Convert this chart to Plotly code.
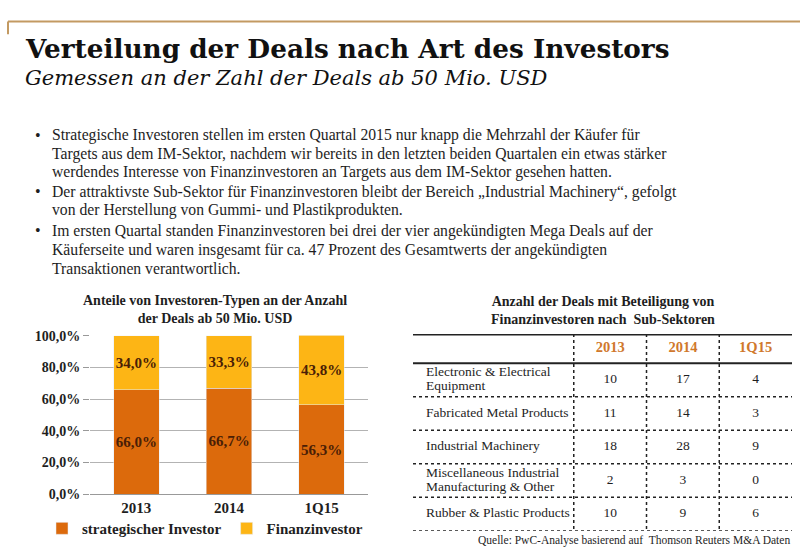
import plotly.graph_objects as go

# ---------------- data ----------------
years = ["2013", "2014", "1Q15"]
strategisch = [0.660, 0.667, 0.563]
finanz = [0.340, 0.333, 0.438]
strat_labels = ["66,0%", "66,7%", "56,3%"]
finanz_labels = ["34,0%", "33,3%", "43,8%"]

sectors = ["Electronic & Electrical<br>Equipment", "Fabricated Metal Products", "Industrial Machinery",
           "Miscellaneous Industrial<br>Manufacturing & Other", "Rubber & Plastic Products"]
deals_2013 = [10, 11, 18, 2, 10]
deals_2014 = [17, 14, 28, 3, 9]
deals_1q15 = [4, 3, 9, 0, 6]

title = "Verteilung der Deals nach Art des Investors"
subtitle = "Gemessen an der Zahl der Deals ab 50 Mio. USD"
bullets = [
    ["Strategische Investoren stellen im ersten Quartal 2015 nur knapp die Mehrzahl der Käufer für",
     "Targets aus dem IM-Sektor, nachdem wir bereits in den letzten beiden Quartalen ein etwas stärker",
     "werdendes Interesse von Finanzinvestoren an Targets aus dem IM-Sektor gesehen hatten."],
    ["Der attraktivste Sub-Sektor für Finanzinvestoren bleibt der Bereich „Industrial Machinery“, gefolgt",
     "von der Herstellung von Gummi- und Plastikprodukten."],
    ["Im ersten Quartal standen Finanzinvestoren bei drei der vier angekündigten Mega Deals auf der",
     "Käuferseite und waren insgesamt für ca. 47 Prozent des Gesamtwerts der angekündigten",
     "Transaktionen verantwortlich."],
]
chart_title = "Anteile von Investoren-Typen an der Anzahl<br>der Deals ab 50 Mio. USD"
table_title = "Anzahl der Deals mit Beteiligung von<br>Finanzinvestoren nach  Sub-Sektoren"
source = "Quelle: PwC-Analyse basierend auf  Thomson Reuters M&A Daten"

# ---------------- style ----------------
W, H = 800, 557
ORANGE = "#DC6A0C"
YELLOW = "#FDB515"
LBL = "#4a1e06"
SERIF = "Liberation Serif"
GEORGIA = "DejaVu Serif"
TXT = "#1e1e1e"

def py(pix):  # pixel y from top -> paper
    return (H - pix) / H

fig = go.Figure()

for vals, labels, name, col in [(strategisch, strat_labels, "strategischer Investor", ORANGE),
                                (finanz, finanz_labels, "Finanzinvestor", YELLOW)]:
    fig.add_trace(go.Bar(
        x=years, y=vals, name="<b>" + name + "</b>", marker_color=col,
        text=labels, texttemplate="<b>%{text}</b>", textposition="inside", insidetextanchor="middle",
        textangle=0, constraintext="none",
        textfont=dict(family=SERIF, size=15, color=LBL), width=0.49,
        xaxis="x", yaxis="y", hoverinfo="skip"))

# ---------------- table on its own axes ----------------
label_w = 2.21
header_h = 0.87
n = len(sectors)
row_centers = [-(header_h + i + 0.5) for i in range(n)]
col_centers = [0.5, 1.5, 2.5]

lab_x, lab_y, lab_t = [], [], []
for s, yc in zip(sectors, row_centers):
    parts = s.split("<br>")
    k = len(parts)
    for j, p in enumerate(parts):
        lab_x.append(-label_w + 0.18)
        lab_y.append(yc + (0.5 * (k - 1) - j) * 0.42)
        lab_t.append(p)
fig.add_trace(go.Scatter(
    x=lab_x, y=lab_y, text=lab_t, mode="text",
    textposition="middle right", textfont=dict(family=SERIF, size=13.5, color=TXT),
    xaxis="x2", yaxis="y2", showlegend=False, hoverinfo="skip"))
for c, vals in zip(col_centers, [deals_2013, deals_2014, deals_1q15]):
    fig.add_trace(go.Scatter(
        x=[c] * n, y=row_centers, text=[str(v) for v in vals], mode="text",
        textposition="middle center", textfont=dict(family=SERIF, size=13.5, color=TXT),
        xaxis="x2", yaxis="y2", showlegend=False, hoverinfo="skip"))
fig.add_trace(go.Scatter(
    x=col_centers, y=[-header_h / 2] * 3, text=["<b>" + y + "</b>" for y in years], mode="text",
    textposition="middle center", textfont=dict(family=SERIF, size=14.5, color="#D0782C"),
    xaxis="x2", yaxis="y2", showlegend=False, hoverinfo="skip"))

shapes = []
shapes.append(dict(type="line", xref="x2", yref="y2", x0=-label_w, x1=3, y0=0, y1=0,
                   line=dict(color="#222", width=3)))
shapes.append(dict(type="line", xref="x2", yref="y2", x0=-label_w, x1=3, y0=-header_h, y1=-header_h,
                   line=dict(color="#222", width=2)))
for i in range(1, n + 1):
    yb = -(header_h + i)
    shapes.append(dict(type="line", xref="x2", yref="y2", x0=-label_w, x1=3, y0=yb, y1=yb,
                       line=dict(color="#222", width=1.5, dash="dot")))
for xv in [0, 1, 2]:
    shapes.append(dict(type="line", xref="x2", yref="y2", x0=xv, x1=xv, y0=0, y1=-(header_h + n),
                       line=dict(color="#222", width=1.5, dash="dot")))

shapes.append(dict(type="line", xref="paper", yref="paper", x0=8 / W, x1=1, y0=py(15), y1=py(15),
                   line=dict(color="#C39A62", width=2)))
shapes.append(dict(type="line", xref="paper", yref="paper", x0=8 / W, x1=8 / W, y0=py(15), y1=py(28),
                   line=dict(color="#C39A62", width=2)))

annotations = [
    dict(text="<b>" + title + "</b>", x=23 / W, y=py(43), xanchor="left", yanchor="middle",
         font=dict(family=GEORGIA, size=26.3, color="#111")),
    dict(text="<i>" + subtitle + "</i>", x=23 / W, y=py(73), xanchor="left", yanchor="middle",
         font=dict(family=GEORGIA, size=21, color="#111")),
    dict(text="<b>" + chart_title + "</b>", x=215 / W, y=py(311), xanchor="center", yanchor="middle",
         font=dict(family=SERIF, size=14, color=TXT), align="center"),
    dict(text="<b>" + table_title + "</b>", x=603 / W, y=py(312), xanchor="center", yanchor="middle",
         font=dict(family=SERIF, size=14, color=TXT), align="center"),
    dict(text=source, x=792 / W, y=py(548), xanchor="right", yanchor="middle",
         font=dict(family=SERIF, size=11.5, color=TXT)),
]
line_y = [[132, 151, 170], [190, 209], [230, 250, 269]]
for blines, ys in zip(bullets, line_y):
    annotations.append(dict(text="•", x=33 / W, y=py(ys[0]), xanchor="left", yanchor="middle",
                            font=dict(family=SERIF, size=16, color=TXT)))
    for t, yy in zip(blines, ys):
        annotations.append(dict(text=t, x=50 / W, y=py(yy), xanchor="left", yanchor="middle",
                                font=dict(family=SERIF, size=15.7, color=TXT)))
for a in annotations:
    a.setdefault("xref", "paper")
    a.setdefault("yref", "paper")
    a.setdefault("showarrow", False)

fig.update_layout(
    width=W, height=H, autosize=False,
    margin=dict(l=0, r=0, t=0, b=0),
    paper_bgcolor="white", plot_bgcolor="white",
    barmode="stack", separators=",.",
    showlegend=True,
    legend=dict(orientation="h", x=205 / W, xanchor="center", y=py(536), yanchor="middle",
                font=dict(family=SERIF, size=15, color=TXT), itemwidth=30,
                traceorder="normal", bgcolor="rgba(0,0,0,0)"),
    xaxis=dict(domain=[90 / W, 368 / W], showline=True, linecolor="#999", linewidth=1,
               tickfont=dict(family=SERIF, size=15, color=TXT), ticks="",
               tickprefix="<b>", ticksuffix="</b>", fixedrange=True),
    yaxis=dict(domain=[py(500.7), py(337.7)], range=[0, 1], dtick=0.2, tickformat=".1%",
               showgrid=True, gridcolor="#b3b3b3", gridwidth=1, ticks="outside", ticklen=6,
               tickcolor="#999", zeroline=False,
               tickfont=dict(family=SERIF, size=14, color=TXT),
               tickprefix="<b>", ticksuffix="</b>", fixedrange=True),
    xaxis2=dict(domain=[413 / W, 792 / W], range=[-label_w, 3], visible=False, fixedrange=True,
                anchor="y2"),
    yaxis2=dict(domain=[py(538.3), py(336)], range=[-(header_h + n), 0], visible=False,
                fixedrange=True, anchor="x2"),
    shapes=shapes, annotations=annotations,
)

fig.write_html("out.html")
